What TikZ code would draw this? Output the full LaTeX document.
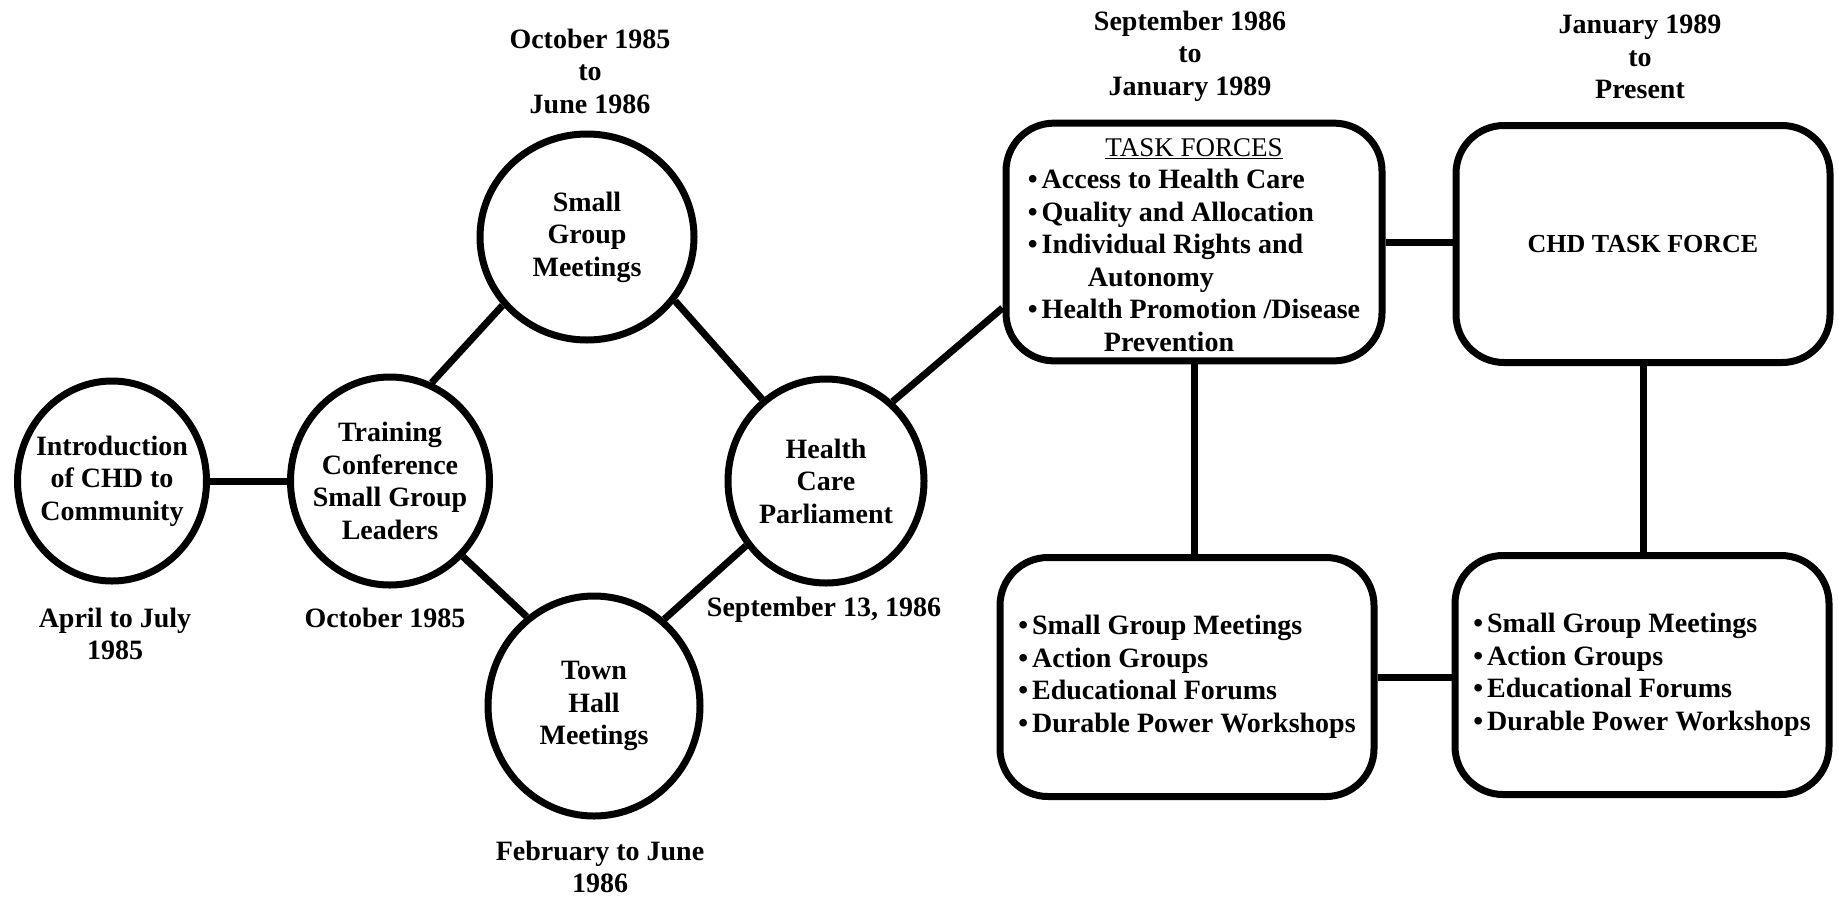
\documentclass[tikz,border=0pt]{standalone}
\usepackage{fontspec}
\setmainfont{Liberation Serif}
\usetikzlibrary{shapes.geometric}
\newcommand{\bul}{\textbullet\hspace{4pt}}
\begin{document}
\begin{tikzpicture}[x=1pt,y=-1pt,
  every node/.style={font=\fontsize{28}{32.5}\selectfont\bfseries, inner sep=0pt},
  circ/.style={draw, ellipse, line width=7pt},
  ctext/.style={align=center},
  lbl/.style={align=center},
  tbox/.style={draw, rectangle, rounded corners=48pt, line width=7pt},
  link/.style={line width=7pt}]
\useasboundingbox (0,0) rectangle (1838,898);

% circles
\node[circ, minimum width=189pt, minimum height=200pt,
  label={[ctext]center:{Introduction\\of CHD to\\Community}}] (intro) at (112,481) {};
\node[circ, minimum width=199pt, minimum height=208pt,
  label={[ctext]center:{Training\\Conference\\Small Group\\Leaders}}] (train) at (390,481) {};
\node[circ, minimum width=214pt, minimum height=206pt,
  label={[ctext]center:{Small\\Group\\Meetings}}] (sg) at (587,237) {};
\node[circ, minimum width=196pt, minimum height=204pt,
  label={[ctext]center:{Health\\Care\\Parliament}}] (hc) at (826,481) {};
\node[circ, minimum width=212pt, minimum height=220pt,
  label={[ctext]center:{Town\\Hall\\Meetings}}] (th) at (594,706) {};

% date labels
\node[lbl] (lintro) at (115,634) {April to July\\1985};
\node[lbl] (ltrain) at (385,618) {October 1985};
\node[lbl] (lsg) at (590,71) {October 1985\\to\\June 1986};
\node[lbl] (lhc) at (824,610) {September 13, 1986};
\node[lbl] (lth) at (600,867) {February to June\\1986};
\node[lbl] (ltf) at (1190,56) {September 1986\\to\\January 1989};
\node[lbl] (lchd) at (1640,57) {January 1989\\to\\Present};

% boxes
\node[tbox, minimum width=376pt, minimum height=234pt] (tf) at (1194,242) {%
\begin{tabular}{@{}l@{}}
\multicolumn{1}{@{}c@{}}{\rule{0pt}{33pt}\mdseries\fontsize{27}{32.5}\selectfont\underline{TASK FORCES}}\\
\bul Access to Health Care\\
\bul Quality and Allocation\\
\bul Individual Rights and\\
\hspace*{60pt}Autonomy\\
\bul Health Promotion /Disease\\
\hspace*{76pt}Prevention
\end{tabular}};
\node[tbox, minimum width=374pt, minimum height=237pt,
  font=\fontsize{26}{30}\selectfont\bfseries] (chd) at (1643,244) {CHD TASK FORCE};
\node[tbox, minimum width=374pt, minimum height=239pt] (bl) at (1187,677) {%
\begin{tabular}{@{}l@{}}
\bul Small Group Meetings\\
\bul Action Groups\\
\bul Educational Forums\\
\bul Durable Power Workshops
\end{tabular}};
\node[tbox, minimum width=374pt, minimum height=239pt] (br) at (1642,675) {%
\begin{tabular}{@{}l@{}}
\bul Small Group Meetings\\
\bul Action Groups\\
\bul Educational Forums\\
\bul Durable Power Workshops
\end{tabular}};

% connectors
\draw[link] (intro) -- (train);
\draw[link] (train.67) -- (sg.219);
\draw[link] (sg.324) -- (hc.128);
\draw[link] (train.314) -- (th.127);
\draw[link] (th.51) -- (hc.219);
\draw[link] (hc.50) -- (tf.199);
\draw[link] (tf.east) -- (tf.east -| chd.west);
\draw[link] (tf.south) -- (tf.south |- bl.north);
\draw[link] (chd.south) -- (chd.south |- br.north);
\draw[link] (bl.east) -- (bl.east -| br.west);
\end{tikzpicture}
\end{document}
